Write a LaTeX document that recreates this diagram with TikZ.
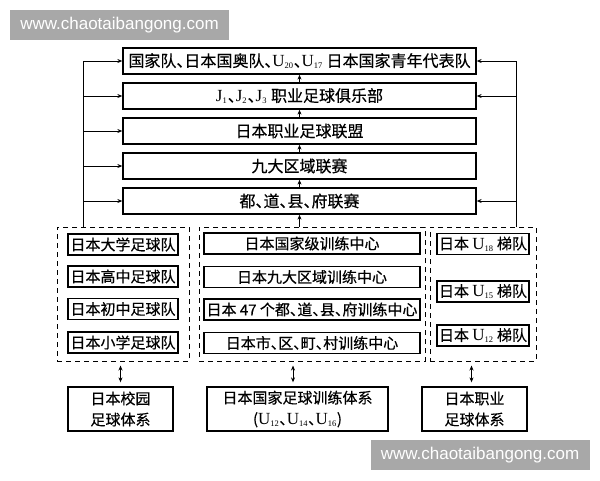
\documentclass[tikz,border=0pt]{standalone}
\usepackage{fontspec}
\setmainfont{Noto Sans CJK SC}[FakeBold=0.5]
\newfontfamily\latf{Liberation Serif}
\newfontfamily\wmf{Liberation Sans}
\usetikzlibrary{arrows.meta}
\definecolor{wmgray}{HTML}{A8A8A8}
\newcommand\dun{\makebox[0.5em][l]{、}}
\newcommand\Ux[1]{{\latf\fontsize{17}{17}\selectfont U\raisebox{-0.12em}{\fontsize{8.5}{8.5}\selectfont #1}\kern0.5pt}}
\newcommand\Jx[1]{{\latf\fontsize{17}{17}\selectfont J\raisebox{-0.12em}{\fontsize{8.5}{8.5}\selectfont #1}\kern1pt}}
\tikzset{
 box/.style={draw, line width=1.3pt, inner sep=0pt, font=\fontsize{15}{21}\selectfont},
 topbox/.style={box, minimum width=353pt, minimum height=26pt, font=\fontsize{16}{21}\selectfont},
 lbox/.style={box, minimum width=110pt, minimum height=21pt},
 mbox/.style={box, minimum width=216pt, minimum height=21pt},
 rbox/.style={box, minimum width=92pt, minimum height=21pt},
 dbox/.style={draw, line width=1pt, dash pattern=on 5pt off 4pt, minimum height=134pt, inner sep=0pt},
 botbox/.style={box, align=center, minimum height=44pt},
 arr/.style={line width=1pt, -{Stealth[length=5pt,width=4pt]}},
 darr/.style={line width=1pt, {Stealth[length=5pt,width=4pt]}-{Stealth[length=5pt,width=4pt]}},
 wm/.style={fill=wmgray, text=white, font=\wmf\fontsize{17}{17}\selectfont, minimum width=219pt, minimum height=30pt, inner sep=0pt},
}
\begin{document}
\begin{tikzpicture}[x=1pt,y=-1pt]
\useasboundingbox (0,0) rectangle (600,480);
% top column
\node[topbox] (t1) at (299.5,61) {国家队\dun 日本国奥队\dun\Ux{20}\dun\Ux{17} 日本国家青年代表队};
\node[topbox] (t2) at (299.5,96) {\Jx{1}\dun\Jx{2}\dun\Jx{3} 职业足球俱乐部};
\node[topbox] (t3) at (299.5,131) {日本职业足球联盟};
\node[topbox] (t4) at (299.5,166) {九大区域联赛};
\node[topbox] (t5) at (299.5,201) {都\dun 道\dun 县\dun 府联赛};
% dashed groups
\node[dbox, minimum width=132pt] (dl) at (123,294) {};
\node[dbox, minimum width=226pt] (dm) at (312,294) {};
\node[dbox, minimum width=106pt] (dr) at (483,294) {};
% left group
\node[lbox] (l1) at (123,244.5) {日本大学足球队};
\node[lbox] (l2) at (123,276.5) {日本高中足球队};
\node[lbox] (l3) at (123,309) {日本初中足球队};
\node[lbox] (l4) at (123,342.5) {日本小学足球队};
% middle group
\node[mbox] (m1) at (312,243.5) {日本国家级训练中心};
\node[mbox] (m2) at (312,277) {日本九大区域训练中心};
\node[mbox] (m3) at (312,309.5) {日本 47 个都\dun 道\dun 县\dun 府训练中心};
\node[mbox] (m4) at (312,343) {日本市\dun 区\dun 町\dun 村训练中心};
% right group
\node[rbox] (r1) at (483,244) {日本 \Ux{18} 梯队};
\node[rbox] (r2) at (483,291.5) {日本 \Ux{15} 梯队};
\node[rbox] (r3) at (483,335.5) {日本 \Ux{12} 梯队};
% bottom boxes
\node[botbox, minimum width=105pt] (bl) at (120.5,409) {日本校园\\足球体系};
\node[botbox, minimum width=181pt] (bm) at (297.5,409) {日本国家足球训练体系\\(\Ux{12}\dun\Ux{14}\dun\Ux{16})};
\node[botbox, minimum width=105pt] (br) at (474.5,409) {日本职业\\足球体系};
% side feedback lines
\coordinate (L0) at (83,227);
\coordinate (R0) at (516,227);
\draw[arr] (L0) |- (t1.west);
\foreach \n in {t2,t3,t4,t5} \draw[arr] (\n.west -| L0) -- (\n.west);
\draw[arr] (R0) |- (t1.east);
\foreach \n in {t2,t5} \draw[arr] (\n.east -| R0) -- (\n.east);
% arrows between top boxes
\draw[arr] (t2.north) -- (t1.south);
\draw[arr] (t3.north) -- (t2.south);
\draw[arr] (t4.north) -- (t3.south);
\draw[arr] (t5.north) -- (t4.south);
\draw[arr] (t5.south |- dm.north) -- (t5.south);
% double arrows to bottom boxes
\draw[darr, shorten <=4pt, shorten >=4pt] (bl.north) -- (bl.north |- dl.south);
\draw[darr, shorten <=4pt, shorten >=4pt] ([xshift=-4.5pt]bm.north) -- ([xshift=-4.5pt]bm.north |- dm.south);
\draw[darr, shorten <=4pt, shorten >=4pt] ([xshift=-3pt]br.north) -- ([xshift=-3pt]br.north |- dr.south);
% watermarks
\node[wm] (w1) at (119.5,25) {www.chaotaibangong.com};
\node[wm] (w2) at (480,455) {www.chaotaibangong.com};
\end{tikzpicture}
\end{document}
